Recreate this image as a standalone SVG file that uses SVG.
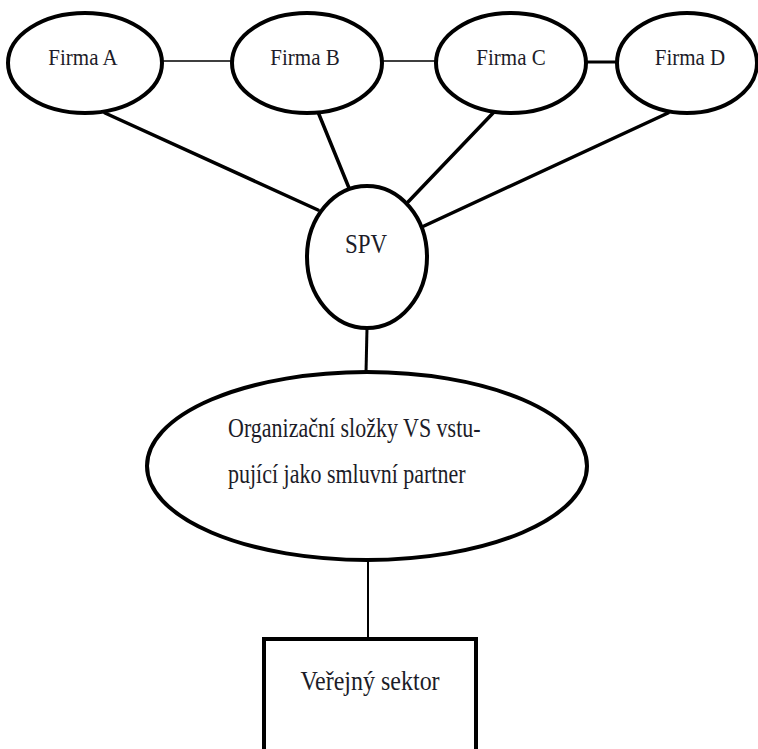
<svg xmlns="http://www.w3.org/2000/svg" width="758" height="749" viewBox="0 0 758 749">
  <style>
    .node { fill: #ffffff; stroke: #000000; stroke-width: 4; }
    .label { fill: #1c1c28; }
    .link { stroke: #000000; fill: none; stroke-linecap: round; }
  </style>
  <rect x="0" y="0" width="758" height="749" fill="#ffffff"/>

  <!-- connectors -->
  <g id="connectors">
    <line class="link" x1="162" y1="61" x2="232" y2="61" stroke-width="1.6"/>
    <line class="link" x1="382" y1="61" x2="436" y2="61" stroke-width="1.6"/>
    <line class="link" x1="586" y1="62" x2="616" y2="62" stroke-width="3"/>
    <line class="link" x1="105" y1="113" x2="318" y2="210" stroke-width="3.5"/>
    <line class="link" x1="318" y1="112" x2="349" y2="188" stroke-width="3.5"/>
    <line class="link" x1="494" y1="112" x2="408" y2="202" stroke-width="3.5"/>
    <line class="link" x1="668" y1="113" x2="424" y2="226" stroke-width="3.5"/>
    <line class="link" x1="367" y1="328" x2="366" y2="373" stroke-width="3"/>
    <line class="link" x1="368" y1="560" x2="368" y2="637" stroke-width="2"/>
  </g>

  <g font-family="Liberation Serif, Times New Roman, serif">
    <g id="firma-a">
      <ellipse class="node" cx="85" cy="63" rx="77" ry="50"/>
      <text class="label" font-size="21" text-anchor="middle" transform="translate(83,65) scale(1,1.12)">Firma A</text>
    </g>
    <g id="firma-b">
      <ellipse class="node" cx="307" cy="63" rx="75" ry="50"/>
      <text class="label" font-size="21" text-anchor="middle" transform="translate(305,65) scale(1,1.12)">Firma B</text>
    </g>
    <g id="firma-c">
      <ellipse class="node" cx="511" cy="63" rx="75" ry="50"/>
      <text class="label" font-size="21" text-anchor="middle" transform="translate(511,65) scale(1,1.12)">Firma C</text>
    </g>
    <g id="firma-d">
      <ellipse class="node" cx="687" cy="63" rx="70" ry="50"/>
      <text class="label" font-size="21" text-anchor="middle" transform="translate(690,65) scale(1,1.12)">Firma D</text>
    </g>

    <g id="spv">
      <ellipse class="node" cx="367" cy="257" rx="60" ry="71"/>
      <text class="label" font-size="23" text-anchor="middle" transform="translate(366,253) scale(1,1.15)">SPV</text>
    </g>

    <g id="organizacni-slozky">
      <ellipse class="node" cx="367" cy="466" rx="220" ry="94"/>
      <text class="label" font-size="22" transform="translate(228,437) scale(1,1.2)">Organizační složky VS vstu-</text>
      <text class="label" font-size="22" transform="translate(228,483) scale(1,1.2)">pující jako smluvní partner</text>
    </g>

    <g id="verejny-sektor">
      <rect class="node" x="264" y="639" width="212" height="120" stroke-width="5"/>
      <text class="label" font-size="24" text-anchor="middle" transform="translate(370,690) scale(1,1.1)">Veřejný sektor</text>
    </g>
  </g>
</svg>
